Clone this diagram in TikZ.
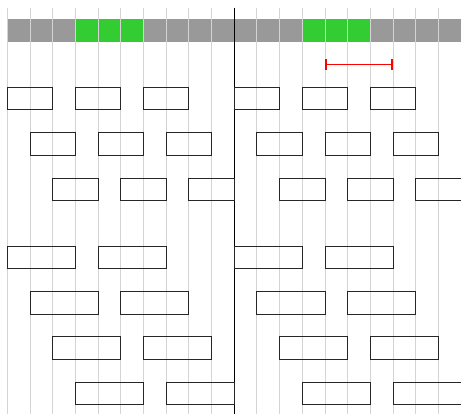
\documentclass[tikz,border=0pt]{standalone}
\usetikzlibrary{arrows.meta}
\definecolor{gridgrey}{HTML}{D4D4D4}
\definecolor{bargrey}{HTML}{999999}
\definecolor{bargreen}{HTML}{33CC33}
\tikzset{
  gridline/.style={draw=gridgrey, line width=0.9pt},
  axisline/.style={draw=black, line width=1.1pt},
  slot/.style={draw=black!85, line width=0.9pt, rectangle, inner sep=0pt, outer sep=0pt,
               minimum height=1cm, anchor=north west},
  slot2/.style={slot, minimum width=2cm},
  slot3/.style={slot, minimum width=3cm},
  span/.style={draw=red, line width=2.2pt, {Bar[width=0.45cm]}-{Bar[width=0.45cm]}},
}
\begin{document}
\begin{tikzpicture}[x=1cm,y=1cm]
\useasboundingbox (-0.32,-16.4) rectangle (20,1.84);
% bar
\fill[bargrey] (0,0) rectangle (20,1);
\fill[bargreen] (3,0) rectangle (6,1);
\fill[bargreen] (13,0) rectangle (16,1);
% grid
\foreach \i in {0,...,20} { \draw[gridline] (\i,1.5) -- (\i,-16.4); }
\coordinate (axtop) at (10,1.5);
\coordinate (axbot) at (10,-16.4);
\draw[axisline] (axtop) -- (axbot);
% interval
\coordinate (ia) at (14,-1);
\coordinate (ib) at (17,-1);
\draw[span] (ia) -- (ib);
% rows of 2-wide slots
\node[slot2] (a1) at (0,-2) {};
\node[slot2] (a2) at (3,-2) {};
\node[slot2] (a3) at (6,-2) {};
\node[slot2] (a4) at (10,-2) {};
\node[slot2] (a5) at (13,-2) {};
\node[slot2] (a6) at (16,-2) {};
\node[slot2] (b1) at (1,-4) {};
\node[slot2] (b2) at (4,-4) {};
\node[slot2] (b3) at (7,-4) {};
\node[slot2] (b4) at (11,-4) {};
\node[slot2] (b5) at (14,-4) {};
\node[slot2] (b6) at (17,-4) {};
\node[slot2] (c1) at (2,-6) {};
\node[slot2] (c2) at (5,-6) {};
\node[slot2] (c3) at (8,-6) {};
\node[slot2] (c4) at (12,-6) {};
\node[slot2] (c5) at (15,-6) {};
\node[slot2] (c6) at (18,-6) {};
% rows of 3-wide slots
\node[slot3] (d1) at (0,-9) {};
\node[slot3] (d2) at (4,-9) {};
\node[slot3] (d3) at (10,-9) {};
\node[slot3] (d4) at (14,-9) {};
\node[slot3] (e1) at (1,-11) {};
\node[slot3] (e2) at (5,-11) {};
\node[slot3] (e3) at (11,-11) {};
\node[slot3] (e4) at (15,-11) {};
\node[slot3] (f1) at (2,-13) {};
\node[slot3] (f2) at (6,-13) {};
\node[slot3] (f3) at (12,-13) {};
\node[slot3] (f4) at (16,-13) {};
\node[slot3] (g1) at (3,-15) {};
\node[slot3] (g2) at (7,-15) {};
\node[slot3] (g3) at (13,-15) {};
\node[slot3] (g4) at (17,-15) {};
\end{tikzpicture}
\end{document}
